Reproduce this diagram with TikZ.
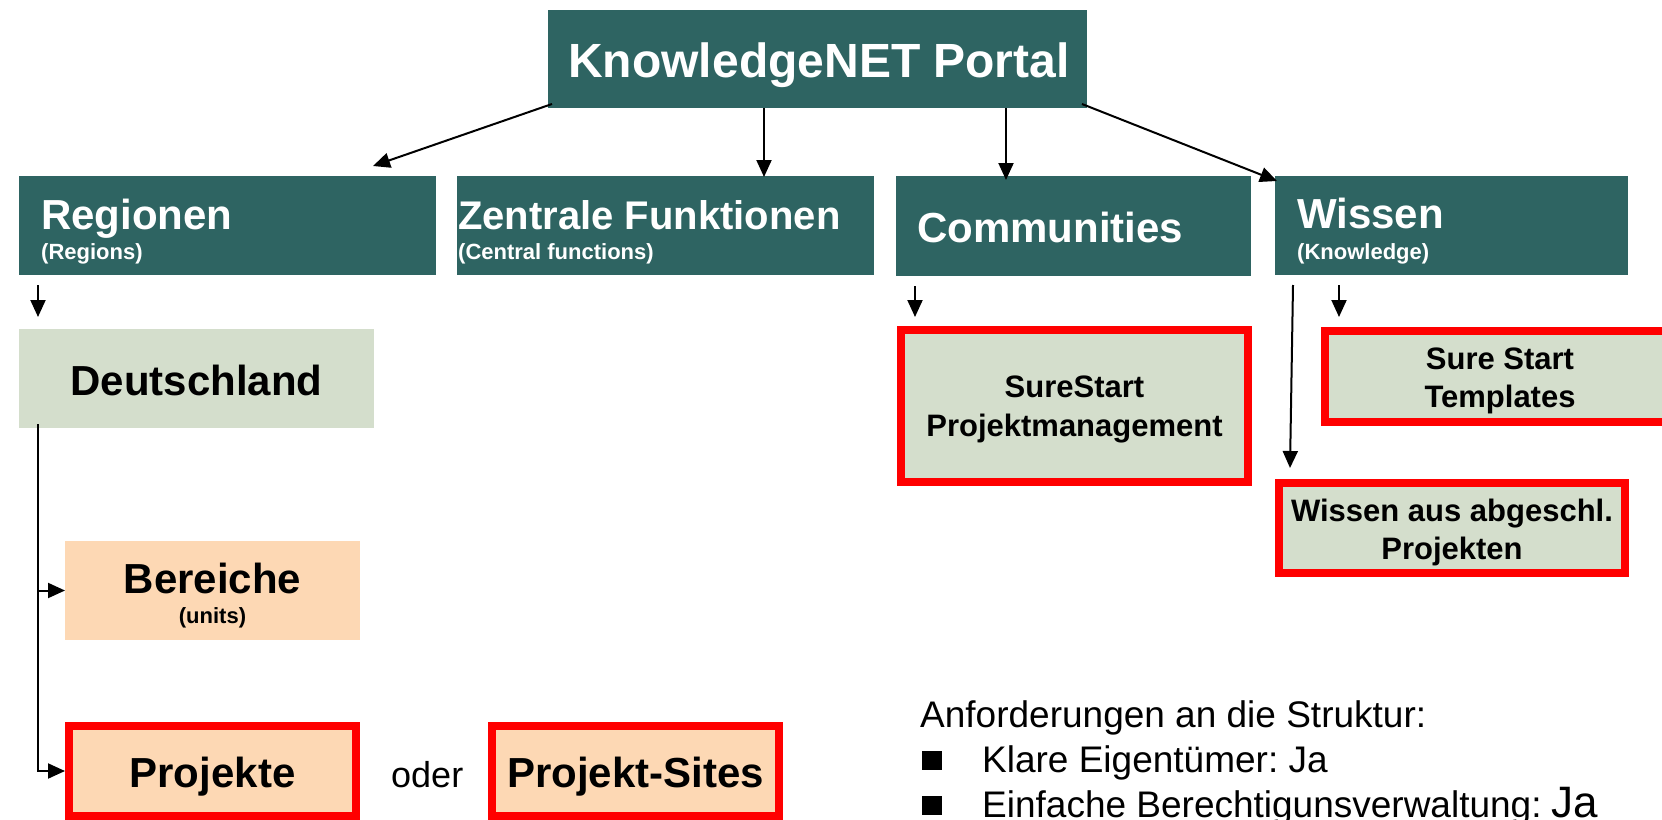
\documentclass[tikz,border=0pt]{standalone}
\usepackage{fontspec}
\setmainfont{Liberation Sans}
\usetikzlibrary{arrows.meta,calc}
\definecolor{kteal}{RGB}{46,100,98}
\definecolor{kgreen}{RGB}{212,222,204}
\definecolor{kpeach}{RGB}{253,216,180}
\definecolor{kred}{RGB}{255,0,0}
\frenchspacing
\begin{document}
\begin{tikzpicture}[x=1pt,y=-1pt,
  box/.style={rectangle,anchor=north west,inner sep=0pt,outer sep=0pt},
  hdr/.style={box,fill=kteal},
  redbox/.style={rectangle,anchor=north west,inner sep=0pt,draw=kred,line width=8pt},
  txt/.style={inner sep=0pt,anchor=base},
  txtl/.style={inner sep=0pt,anchor=base west},
  fportal/.style={font=\fontsize{48}{56}\selectfont\bfseries,text=white},
  fhead/.style={font=\fontsize{42}{50}\selectfont\bfseries},
  fsub/.style={font=\fontsize{22}{26}\selectfont\bfseries},
  fmid/.style={font=\fontsize{31}{37}\selectfont\bfseries},
  fplain/.style={font=\fontsize{37}{44}\selectfont},
  arr/.style={-{Triangle[length=17pt,width=15pt]},line width=2pt},
  bullet/.style={rectangle,fill=black,inner sep=0pt,minimum width=20pt,minimum height=19pt}
]
\useasboundingbox (0,0) rectangle (1662,819);
\clip (0,0) rectangle (1662,819);

% boxes
\node[hdr,minimum width=539pt,minimum height=98pt] (portal) at (548,10) {};
\node[hdr,minimum width=417pt,minimum height=99pt] (reg) at (19,176) {};
\node[hdr,minimum width=417pt,minimum height=99pt] (zf) at (457,176) {};
\node[hdr,minimum width=355pt,minimum height=100pt] (com) at (896,176) {};
\node[hdr,minimum width=353pt,minimum height=99pt] (wis) at (1275,176) {};
\node[box,fill=kgreen,minimum width=355pt,minimum height=99pt] (de) at (19,329) {};
\node[box,fill=kpeach,minimum width=295pt,minimum height=99pt] (ber) at (65,541) {};
\node[redbox,fill=kpeach,minimum width=287pt,minimum height=90pt] (proj) at (65,722) {};
\node[redbox,fill=kpeach,minimum width=287pt,minimum height=90pt] (sites) at (488,722) {};
\node[redbox,fill=kgreen,minimum width=347pt,minimum height=152pt] (spm) at (897,326) {};
\node[redbox,fill=kgreen,minimum width=350pt,minimum height=91pt] (tpl) at (1321,327) {};
\node[redbox,fill=kgreen,minimum width=346pt,minimum height=90pt] (wa) at (1275,479) {};

% texts
\node[txt,fportal] (tportal) at (819,77) {KnowledgeNET Portal};
\node[txtl,fhead,text=white] (treg) at (41,229) {Regionen};
\node[txtl,fsub,text=white] (treg2) at (41,259) {(Regions)};
\node[txtl,font=\fontsize{40}{48}\selectfont\bfseries,text=white] (tzf) at (458,229) {Zentrale Funktionen};
\node[txtl,fsub,text=white] (tzf2) at (458,259) {(Central functions)};
\node[txtl,fhead,text=white] (tcom) at (917,242) {Communities};
\node[txtl,fhead,text=white] (twis) at (1297,228) {Wissen};
\node[txtl,fsub,text=white] (twis2) at (1297,259) {(Knowledge)};
\node[txt,fhead] (tde) at (196.5,395) {Deutschland};
\node[txt,fhead] (tber) at (212.5,593) {Bereiche};
\node[txt,fsub] (tber2) at (212.5,623) {(units)};
\node[txt,fhead] (tproj) at (212.5,787) {Projekte};
\node[txtl,font=\fontsize{36}{43}\selectfont] (toder) at (391,787) {oder};
\node[txt,fhead] (tsites) at (635.5,787) {Projekt-Sites};
\node[txt,fmid] (tspm1) at (1074.5,397) {SureStart};
\node[txt,fmid] (tspm2) at (1074.5,436) {Projektmanagement};
\node[txt,fmid] (ttpl1) at (1500,369) {Sure Start};
\node[txt,fmid] (ttpl2) at (1500,407) {Templates};
\node[txt,fmid] (twa1) at (1452,521) {Wissen aus abgeschl.};
\node[txt,fmid] (twa2) at (1452,559) {Projekten};
\node[txtl,fplain] (treq) at (920,727) {Anforderungen an die Struktur:};
\node[bullet] (b1) at (932,760.5) {};
\node[txtl,fplain] (treq1) at (982,772) {Klare Eigentümer: Ja};
\node[bullet] (b2) at (932,805.5) {};
\node[txtl,fplain] (treq2) at (982,817) {Einfache Berechtigunsverwaltung: {\fontsize{44}{50}\selectfont Ja}};

% connectors
\draw[arr] ($(portal.south west)+(4,-4)$) -- ($(reg.north east)+(-63,-10)$);
\draw[arr] ($(portal.south west)+(216,0)$) -- ($(zf.north west)+(307,1)$);
\draw[arr] ($(portal.south west)+(458,0)$) -- ($(com.north west)+(110,4)$);
\draw[arr] ($(portal.south east)+(-5,-4)$) -- ($(wis.north west)+(2,5)$);

\coordinate (trunk) at ($(de.south west)+(19,-4)$);
\draw[arr] ($(reg.south west)+(19,10)$) -- ($(de.north west)+(19,-12)$);
\draw[arr] (trunk) |- (proj.west);
\draw[arr] (trunk |- ber.west) -- (ber.west);

\draw[arr] ($(com.south west)+(19,10)$) -- ($(spm.north west)+(18,-9)$);
\draw[arr] ($(wis.south west)+(18,10)$) -- ($(wa.north west)+(15,-11)$);
\draw[arr] ($(wis.south west)+(64,10)$) -- ($(tpl.north west)+(18,-10)$);
\end{tikzpicture}
\end{document}
